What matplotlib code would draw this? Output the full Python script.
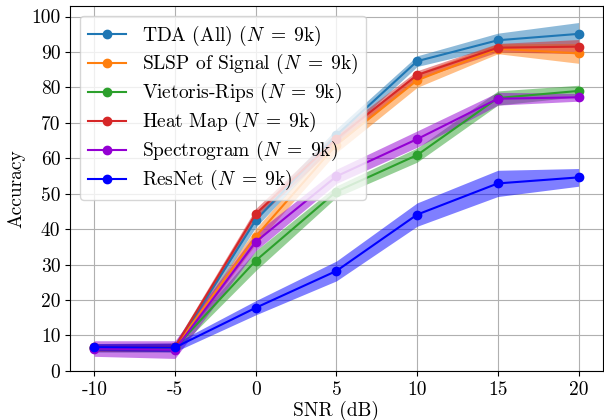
import matplotlib

matplotlib.use("Agg")

import matplotlib.pyplot as plt
import numpy as np

plt.rcParams["font.family"] = "serif"
plt.rcParams["font.serif"] = ["cmr10", "DejaVu Serif"]
plt.rcParams["mathtext.fontset"] = "cm"
plt.rcParams["axes.unicode_minus"] = False
plt.rcParams["axes.formatter.use_mathtext"] = False

snr = [-10, -5, 0, 5, 10, 15, 20]

labels = [
    r"TDA (All) ($N\;=\;9$k)",
    r"SLSP of Signal ($N\;=\;9$k)",
    r"Vietoris-Rips ($N\;=\;9$k)",
    r"Heat Map ($N\;=\;9$k)",
    r"Spectrogram ($N\;=\;9$k)",
    r"ResNet ($N\;=\;9$k)",
]
colors = ["#1f77b4", "#ff7f0e", "#2ca02c", "#d62728", "#9400d3", "#0000ff"]

# mean accuracy per SNR
tda_mean = [6.5, 6.6, 42.5, 66.5, 87.4, 93.3, 95.1]
slsp_mean = [6.5, 6.6, 37.9, 63.8, 82.0, 90.9, 89.6]
vr_mean = [6.4, 6.5, 31.1, 50.6, 60.9, 77.0, 79.0]
heat_mean = [6.6, 6.7, 44.3, 65.5, 83.5, 91.2, 91.5]
spec_mean = [6.3, 6.0, 36.4, 54.9, 65.4, 76.8, 77.2]
resnet_mean = [6.7, 6.6, 17.8, 28.2, 44.1, 52.9, 54.6]

# half-width of the shaded band
tda_err = [1.2, 1.3, 2.0, 1.8, 1.5, 2.0, 3.2]
slsp_err = [1.0, 1.1, 2.2, 2.2, 2.0, 1.4, 2.8]
vr_err = [1.0, 1.1, 2.8, 1.6, 2.0, 2.0, 1.6]
heat_err = [1.0, 1.1, 1.5, 1.8, 1.2, 1.2, 2.0]
spec_err = [2.2, 2.5, 2.5, 2.0, 2.3, 1.8, 1.1]
resnet_err = [1.0, 1.2, 2.0, 2.8, 3.3, 3.7, 2.5]

means = [tda_mean, slsp_mean, vr_mean, heat_mean, spec_mean, resnet_mean]
errs = [tda_err, slsp_err, vr_err, heat_err, spec_err, resnet_err]

fig = plt.figure(figsize=(6.04, 4.2), dpi=100)
ax = fig.add_axes([0.116, 0.117, 0.882, 0.869])

for label, color, m, e in zip(labels, colors, means, errs):
    m = np.array(m)
    e = np.array(e)
    ax.fill_between(snr, m - e, m + e, color=color, alpha=0.5, linewidth=0)
    ax.plot(snr, m, color=color, marker="o", markersize=6, linewidth=1.5, label=label)

ax.set_xlim(-11.5, 21.5)
ax.set_ylim(0, 103)
ax.set_xticks(snr)
ax.set_xticklabels([str(s) for s in snr])
ax.set_yticks(range(0, 101, 10))
ax.tick_params(labelsize=14)
ax.grid(True, color="#b0b0b0", linewidth=0.8)
ax.set_axisbelow(True)
ax.set_xlabel("SNR (dB)", fontsize=14, labelpad=2)
ax.set_ylabel("Accuracy", fontsize=14)
ax.legend(loc="upper left", fontsize=14, labelspacing=0.25)

fig.savefig("out.png", dpi=100)
